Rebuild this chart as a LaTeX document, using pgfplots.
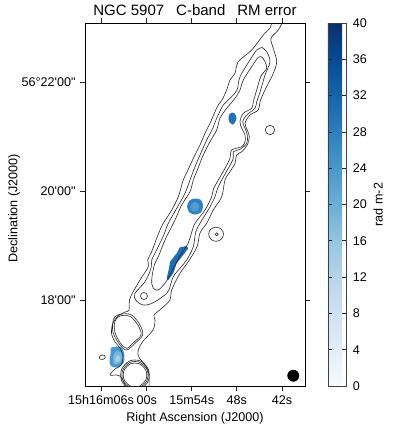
\documentclass[border=0pt]{standalone}
\usepackage{pgfplots}
\pgfplotsset{compat=1.18}
\usepackage{fontspec}
\setmainfont{Liberation Sans}[Ligatures=TeXOff]
\pgfplotsset{
  colormap={blues}{rgb255=(247,251,255) rgb255=(222,235,247) rgb255=(198,219,239) rgb255=(158,202,225) rgb255=(107,174,214) rgb255=(66,146,198) rgb255=(33,113,181) rgb255=(8,81,156) rgb255=(8,48,107)},
  cont/.style={draw=black!85,line width=0.6pt,smooth,tension=0.55,mark=none},
  loop/.style={cont,smooth cycle,tension=1},
  blob/.style={draw=none,smooth cycle,tension=0.5,mark=none},
}
\definecolor{bA}{RGB}{33,113,181}
\definecolor{bB}{RGB}{50,130,195}
\definecolor{bC}{RGB}{85,155,208}
\definecolor{bD}{RGB}{31,108,178}
\definecolor{bE}{RGB}{74,152,208}
\definecolor{bF}{RGB}{120,182,222}
\definecolor{bG}{RGB}{170,208,232}
\begin{document}
\fontsize{12.6}{14}\selectfont
\begin{tikzpicture}
\path[use as bounding box] (0,0) rectangle (392pt,432pt);
\begin{axis}[
  at={(85pt,46pt)},anchor=south west,
  scale only axis,width=220pt,height=363pt,
  xmin=85,xmax=305,ymin=23,ymax=386,y dir=reverse,
  axis line style={line width=0.8pt},
  tick align=outside,major tick length=5pt,
  tick style={line width=0.6pt,color=black!85},
  xtick={101,146.7,191.7,236.7,282},
  xticklabels={15h16m06s,00s,15m54s,48s,42s},
  ytick={82.5,191,300},
  yticklabels={56°22'00",20'00",18'00"},
  xlabel={Right Ascension (J2000)},
  ylabel={Declination (J2000)},
  xlabel style={at={(0.5,-0.099)},anchor=base},
  ylabel style={at={(-0.307,0.49)},anchor=base},
  label style={font=\fontsize{12.6}{14}\selectfont},
  title style={at={(0.5,1.0)},anchor=base,yshift=2pt,font=\fontsize{15}{16}\selectfont},
  title={NGC 5907\hspace{12pt}C-band\hspace{12pt}RM error},
  colormap name=blues,
  point meta min=0,point meta max=40,
  colorbar,
  colorbar style={
    at={(1.1045,1)},anchor=north west,
    scale only axis,width=18pt,height=363pt,
    ytick={0,4,...,40},
    ylabel={rad m-2},
    ylabel style={at={(3.03,0.5)},anchor=base,rotate=0,font=\fontsize{12.6}{14}\selectfont},
    yticklabel style={/pgf/number format/assume math mode=true,xshift=2.5pt},
    axis line style={line width=0.8pt,draw=black!75},
    major tick length=4pt,
  },
]
% RM error blobs
\addplot[blob,fill=bA] coordinates {(232,112.5)(235,114)(236.5,118)(235,122.5)(232.5,124.5)(229.5,122)(228.5,118)(229.5,114)};
\addplot[blob,fill=bB] coordinates {(195,198.5)(201,200)(203,206)(201,212.5)(195,214.5)(189.5,212.5)(187,206.5)(189.5,200.5)};
\addplot[blob,fill=bC] coordinates {(195,202)(198.5,204)(199.5,207)(198,210.5)(195,211.5)(191.5,210)(190.5,207)(192,203.5)};
\addplot[draw=none,fill=bD,mark=none] coordinates {(186.7,246)(188.3,248.3)(183.3,255)(176.7,263.3)(173.3,273.3)(168.3,280)(166.7,278.3)(169,268.3)(170,261.7)(176.7,253.3)(180,247.3)} -- cycle;
\addplot[blob,fill=bE] coordinates {(111.5,347.5)(121.5,347.5)(124.5,356)(123.5,363)(118,367.5)(111.5,366.5)(109.5,362)(110.5,354)};
\addplot[blob,fill=bF] coordinates {(117,351)(121.5,353)(122.5,358)(120.5,362.5)(116,364.5)(113,362)(113.5,355)};
\addplot[blob,fill=bG] coordinates {(117.5,355)(120,357)(119.5,360.5)(116.5,362)(115,359)};
% outer contour, comes in and leaves through the frame
\addplot[cont] coordinates {(272,21)(270,28)(263.3,35)(251.7,50)(238.3,61.7)(235,73.3)(230,80)(226.7,90)(222,100)(218.3,105)(215,111.7)(210,123.3)(205,133.3)(200,145)(193.3,158.3)(188,170)(183.3,180)(178.3,196.7)(171.7,210)(163.3,223.3)(160,230)(156.7,238.3)(151.7,251.7)(147.7,260)(148.3,266.7)(140,280)(130,298.3)(129,310)(125,312)(118,316)(113,323)(111.5,333)(115,342)(120,348)(123,357)(121,365)(115,369)(110,375)(116,375)(121,377)(126,387)};
\addplot[cont] coordinates {(283,21)(278.3,30)(271,38.3)(273.3,48.3)(276.7,61.7)(273.3,73.3)(268,84)(264,92)(260,101.7)(258.3,110)(250,115)(245,123.3)(247.3,130)(249.3,136.7)(247.3,145)(241.7,151.7)(236.7,155)(235,163.3)(230,171.7)(225,180)(221.7,196.7)(213.3,210)(206.7,223.3)(200,233)(197,246.7)(188.3,261.7)(180,273.3)(171.7,290)(170,300)(161.7,308.3)(154,315)(155,320)(153,330)(141.7,343)(138,355)(148,370)(149,387)};
% middle contour
\addplot[cont] coordinates {(262,47.5)(256.7,50)(250,60)(240,76.7)(237,90)(230,98.3)(223.3,105)(216.7,118.3)(212.7,128.3)(206.7,140)(200,155)(195,166.7)(190,180)(185,193.3)(176.7,208.3)(168.3,223.3)(163.3,236)(155,253.3)(151.7,260)(151,268.3)(145,281.7)(135,293.3)(135.7,300)(143.3,305)(153.3,302.7)(166.7,293.3)(170,286.7)(173.3,276.7)(181,267)(186.7,260)(193.3,246.7)(195.7,232)(200,223.3)(210,206.7)(215,196.7)(217.3,189.3)(221.7,180)(228.3,168.3)(233.3,158.3)(233.3,151.7)(240,149.3)(246.7,143.3)(247.3,135)(245,128.3)(242.7,121.7)(246.7,115)(255,108.3)(256.7,101.7)(260.7,90)(265,75)(270,61.7)(266.7,51.7)(262,47.5)};
% inner contour
\addplot[cont] coordinates {(262,57)(258.3,57.3)(251.7,66.7)(243.3,80)(240,90)(235,98.3)(226.7,108.3)(220,118.3)(216.7,130)(210,141.7)(203.3,155)(197.3,170)(193.3,180)(190,191.7)(181.7,205)(175,220)(170,230)(165,240)(158.3,256.7)(154.3,265)(151.7,280)(153.3,288.3)(158.3,290)(165,283.3)(168.3,278.3)(175,265)(181.7,253.3)(188.3,243)(191.5,233)(195,223.3)(205,210)(211.7,196.7)(213.3,189.3)(218.3,180)(225,168.3)(230,158.3)(231.7,150)(241.7,146.7)(245,141.7)(245,135)(241.7,128.3)(240,121.7)(243.3,113.3)(251.7,108.3)(253.3,101.7)(256.7,90)(261,76)(266.7,68.3)(265,61.7)(262,57)};
% top ring of the central source
\addplot[cont,smooth cycle] coordinates {(121.7,314)(131.7,315)(140,325)(142.7,335)(135,343.3)(126.7,350)(120,345)(113.3,333.3)(112.7,323.3)(115,316.7)};
\addplot[cont,smooth cycle] coordinates {(122,315.5)(130.5,316.5)(138.5,326)(141,335)(133.5,342.5)(126.7,348.3)(120.7,343.5)(115,332.7)(114.3,324)(116.7,318.3)};
% bottom ring
\addplot[cont,smooth cycle,tension=0.8] coordinates {(135,360)(145,364.5)(149.3,375)(145,385.5)(135,390)(125,385.5)(120.7,375)(125,364.5)};
\addplot[cont,smooth cycle,tension=0.8] coordinates {(135,361.5)(144,365.5)(148,375)(144,384.5)(135,388.5)(126,384.5)(122,375)(126,365.5)};
\addplot[cont,smooth cycle,tension=0.8] coordinates {(135,363)(143,366.5)(146.7,375)(143,383.5)(135,387)(127,383.5)(123.3,375)(127,366.5)};
% isolated loops
\addplot[loop] coordinates {(270,125.3)(274.7,130)(270,134.7)(265.3,130)};
\addplot[loop] coordinates {(144,292.5)(147.5,296)(144,299.5)(140.5,296)};
\addplot[loop] coordinates {(216,227.3)(223.5,234)(216,241.3)(208.7,234)};
\addplot[loop] coordinates {(216.7,232.8)(218.2,234.3)(216.7,235.8)(215.2,234.3)};
\addplot[loop] coordinates {(102.3,355)(105.3,357)(102.3,359.5)(99.3,357.5)};
% beam
\addplot[only marks,mark=*,mark size=5.7pt,color=black] coordinates {(293.3,375.7)};
\end{axis}
\end{tikzpicture}
\end{document}
